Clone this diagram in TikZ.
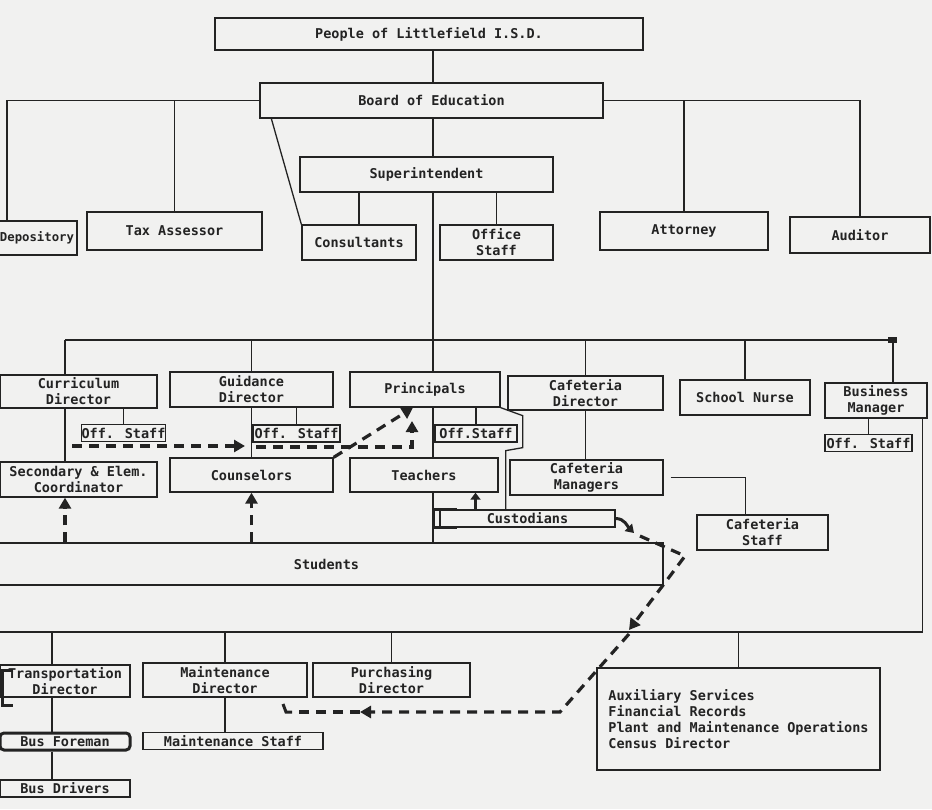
\documentclass[tikz,border=0pt]{standalone}
\usepackage{fontspec}
\setmainfont{DejaVu Sans Mono}
\usepackage{tikz}
\usetikzlibrary{arrows.meta,positioning}
\definecolor{paper}{RGB}{241,241,240}
\definecolor{ink}{RGB}{35,35,35}

\begin{document}
\begin{tikzpicture}[
  x=1pt, y=-1pt,
  box/.style={draw=ink, line width=1.3pt, align=center, inner sep=0pt, text=ink, font=\fontsize{13.5}{16}\selectfont\bfseries},
  small/.style={box, minimum height=17pt},
  link/.style={draw=ink, line width=1.3pt},
  heavy/.style={draw=ink, line width=3pt},
  flow/.style={draw=ink, line width=3.2pt, dash pattern=on 10pt off 7pt, -{Triangle[length=11pt,width=12pt]}}
]
\useasboundingbox (0,0) rectangle (932,809);
\fill[paper] (0,0) rectangle (932,809);
\clip (0,0) rectangle (932,809);

\node[box, minimum width=428pt, minimum height=32pt] (people) at (429,34) {People of Littlefield I.S.D.};
\node[box, minimum width=343pt, minimum height=35pt] (board) at (431.5,100.5) {Board of Education};
\node[box, minimum width=253pt, minimum height=35pt] (supt) at (426.5,174.5) {Superintendent};
\node[box, minimum width=80pt, minimum height=34pt, font=\fontsize{12.3}{14}\selectfont\bfseries] (depos) at (37,238) {Depository};
\node[box, minimum width=175pt, minimum height=38pt] (tax) at (174.5,231) {Tax Assessor};
\node[box, minimum width=114pt, minimum height=35pt] (consult) at (359,242.5) {Consultants};
\node[box, minimum width=113pt, minimum height=35pt] (office) at (496.5,242.5) {Office\\Staff};
\node[box, minimum width=168pt, minimum height=38pt] (attorney) at (684,231) {Attorney};
\node[box, minimum width=140pt, minimum height=36pt] (auditor) at (860,235) {Auditor};

\node[box, minimum width=157pt, minimum height=33pt] (curric) at (78.5,391.5) {Curriculum\\Director};
\node[box, minimum width=163pt, minimum height=35pt] (guid) at (251.5,389.5) {Guidance\\Director};
\node[box, minimum width=150pt, minimum height=35pt] (princ) at (425,389.5) {Principals};
\node[box, minimum width=155pt, minimum height=34pt] (cafdir) at (585.5,393) {Cafeteria\\Director};
\node[box, minimum width=130pt, minimum height=35pt] (nurse) at (745,397.5) {School Nurse};
\node[box, minimum width=102pt, minimum height=35pt] (busmgr) at (876,400.5) {Business\\Manager};

\node[small, minimum width=83pt] (offcur) at (123.5,433) {Off. Staff};
\node[small, minimum width=87pt] (offgui) at (296.5,433.5) {Off. Staff};
\node[small, minimum width=82pt] (offpri) at (476,433.5) {Off.Staff};
\node[small, minimum width=87pt] (offbus) at (868.5,443) {Off. Staff};

\node[box, minimum width=157pt, minimum height=35pt] (coord) at (78.5,479.5) {Secondary \& Elem.\\Coordinator};
\node[box, minimum width=163pt, minimum height=34pt] (couns) at (251.5,475) {Counselors};
\node[box, minimum width=148pt, minimum height=34pt] (teach) at (424,475) {Teachers};
\node[box, minimum width=153pt, minimum height=35pt] (cafmgr) at (586.5,477.5) {Cafeteria\\Managers};
\node[small, minimum width=175pt] (custod) at (527.5,518.5) {Custodians};
\node[box, minimum width=131pt, minimum height=35pt] (cafstaff) at (762.5,532.5) {Cafeteria\\Staff};
\node[box, minimum width=673pt, minimum height=42pt] (students) at (326.5,564) {Students};

\node[box, minimum width=130pt, minimum height=32pt] (transp) at (65,681) {Transportation\\Director};
\node[box, minimum width=164pt, minimum height=34pt] (maintd) at (225,680) {Maintenance\\Director};
\node[box, minimum width=157pt, minimum height=34pt] (purch) at (391.5,680) {Purchasing\\Director};
\node[box, minimum width=283pt, minimum height=102pt, align=left] (aux) at (738.5,719) {Auxiliary Services\\Financial Records\\Plant and Maintenance Operations\\Census Director};
\node[small, minimum width=130pt, line width=3pt, rounded corners=4pt] (busfor) at (65,741.5) {Bus Foreman};
\node[small, minimum width=180pt] (maintst) at (233,741) {Maintenance Staff};
\node[small, minimum width=130pt] (busdrv) at (65,788.5) {Bus Drivers};

\coordinate (bl) at (7,100.5);
\coordinate (trunk) at (433,0);
\coordinate (br1L) at (65,340);
\coordinate (br1R) at (893,340);
\coordinate (br2L) at (-5,632);
\coordinate (tx) at (52,0);

\draw[link] (board.north -| trunk) -- (people.south -| trunk);
\draw[link] (board.south -| trunk) -- (supt.north -| trunk);
\draw[link] (board.west) -- (bl) -- (bl |- depos.north);
\draw[link] (tax.north) -- (tax.north |- board.west);
\draw[link] (board.east) -| (auditor.north);
\draw[link] (attorney.north) -- (attorney.north |- board.east);
\draw[link] ([xshift=12pt]board.south west) -- (consult.north west);
\draw[link] (consult.north) -- (consult.north |- supt.south);
\draw[link] (office.north) -- (office.north |- supt.south);
\draw[link] (supt.south -| trunk) -- (princ.north -| trunk);

\draw[link] (br1L) -- (br1R);
\draw[link] (br1L) -- (br1L |- curric.north);
\draw[link] (guid.north) -- (guid.north |- br1L);
\draw[link] (cafdir.north) -- (cafdir.north |- br1L);
\draw[link] (nurse.north) -- (nurse.north |- br1L);
\draw[link] (br1R) -- (br1R |- busmgr.north);
\fill[ink] ([shift={(-5pt,-3pt)}]br1R) rectangle ([shift={(4pt,3pt)}]br1R);
\draw[link] (offcur.north) -- (offcur.north |- curric.south);
\draw[link] (offgui.north) -- (offgui.north |- guid.south);
\draw[link] (offpri.north) -- (offpri.north |- princ.south);
\draw[link] (offbus.north) -- (offbus.north |- busmgr.south);
\draw[link] (br1L |- curric.south) -- (br1L |- coord.north);
\draw[link] (guid.south) -- (couns.north);
\draw[link] (princ.south -| trunk) -- (teach.north -| trunk);
\draw[link] (teach.south -| trunk) -- (students.north -| trunk);
\draw[link] (cafdir.south) -- (cafdir.south |- cafmgr.north);
\draw[link, line width=0.8pt] ([xshift=7pt]cafmgr.east) -| ([xshift=-17pt]cafstaff.north);
\draw[link] (princ.south east) -- ++(22,8) -- ++(0,32) -- ++(-17,3) -- ++(0,60);

\draw[link] ([xshift=-5pt]busmgr.south east) |- (br2L);
\draw[link] (tx |- br2L) -- (tx |- transp.north);
\draw[link] (tx |- transp.south) -- (tx |- busfor.north);
\draw[link] (tx |- busfor.south) -- (tx |- busdrv.north);
\draw[link] (maintd.north) -- (maintd.north |- br2L);
\draw[link] (purch.north) -- (purch.north |- br2L);
\draw[link] (aux.north) -- (aux.north |- br2L);
\draw[link] (maintd.south) -- (maintd.south |- maintst.north);

\draw[heavy] ([shift={(14pt,-6pt)}]transp.north west) -- ++(-11,0) -- ++(0,35) -- ++(11,0);
\draw[heavy] ([xshift=18pt]custod.north west) -- (custod.north west -| trunk) -- (custod.south west -| trunk) -- ([xshift=18pt]custod.south west);
\draw[heavy, -{Triangle[length=7pt,width=10pt]}] ([xshift=-52pt]custod.north) -- ([xshift=-52pt]custod.north |- teach.south);

\coordinate (d1a) at (72,446);
\coordinate (d1b) at (245,446);
\coordinate (d2a) at (256,447);
\coordinate (d2b) at (412,447);
\coordinate (d2c) at (412,421);
\coordinate (c1) at (634,533);
\coordinate (c2) at (685,556);
\coordinate (c3) at (629,630);
\coordinate (c4) at (560,712);
\coordinate (c5) at (360,712);
\coordinate (c6) at (292,712);

\draw[flow] (d1a) -- (d1b);
\draw[flow] (d2a) -- (d2b) -- (d2c);
\draw[flow] (couns.north east) -- ([xshift=-12pt]princ.south);
\draw[flow] (br1L |- students.north) -- (br1L |- coord.south);
\draw[flow] (couns.south |- students.north) -- (couns.south);
\draw[heavy, -{Triangle[length=8pt,width=10pt]}] (custod.east) to[out=0, in=135] (c1);
\draw[flow] ([shift={(6pt,-3pt)}]c1) -- (c2) -- ++(-18,24) -- (c3);
\draw[flow] ([yshift=-4pt]c3) -- (c4) -- (c5);
\draw[flow, -] (c5) -- (c6);
\draw[heavy] (c6) -- ++(-6,0) -- ++(-3,-8);
\end{tikzpicture}
\end{document}
